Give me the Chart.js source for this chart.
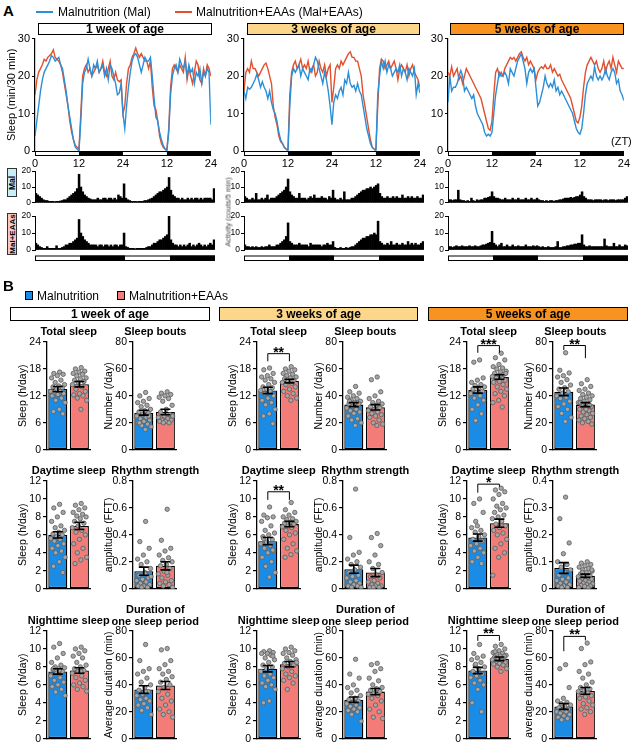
<!DOCTYPE html>
<html><head><meta charset="utf-8">
<script src="https://cdn.jsdelivr.net/npm/chart.js@4.4.1/dist/chart.umd.min.js"></script>
<style>
body{margin:0;background:#fff;}
#root{position:relative;width:638px;height:750px;overflow:hidden;font-family:"Liberation Sans",Arial,sans-serif;color:#000;}
canvas{position:absolute;}
.t{position:absolute;white-space:nowrap;}
.box{position:absolute;border:1px solid #000;box-sizing:border-box;text-align:center;font-weight:bold;font-size:12px;}
.rot{position:absolute;white-space:nowrap;transform:translate(-50%,-50%) rotate(-90deg);}
.ttl{position:absolute;width:140px;text-align:center;font-weight:bold;font-size:11px;line-height:12px;}
</style></head><body><div id="root"></div>
<script>
// ---------- Panel A: sleep per 30 min (ZT 0..48, 97 points) ----------
const zeitgeberTicks = [0, 12, 24, 36, 48];
const zeitgeberLabels = ['0', '12', '24', '12', '24'];
const ageLabels = ['1 week of age', '3 weeks of age', '5 weeks of age'];

const sleepMal1wk = [4,8,12,16,19,21,22,23, 24,25.5,25,24,24.5,25,23,22, 19,16,12,9,6,3,1,0.5, 0,8,18,21,22,24.5,22,20, 23,22,24,21,22,23,20,22, 19,23,22,20,18,15,15.5,18, 10,6,12,17,21,24,25.5,26, 25,23,21,23,25,24,24,25, 20,14,9,8,5,3,1.5,0.5, 0,5,15,20,22,23,21,24.5, 23,22,24,20,23,21,22,18, 21,20,22,18,21,20,22,21, 7];
const sleepEAA1wk = [15,19,21,22,23,24.5,24,25, 25.5,26,27,25,24.5,24,23,21, 18,15,12,8,5,3,1.5,1, 0.5,10,20,22,23,21,22,20, 21,22,23,21,22,24,21,20, 22,24,20,19,21,19,18.5,19, 10,12,18,22,23,25,26,27.5, 26,25,26,25,24,24,22,24, 17,12,11,8,4,2,1,0.5, 0.5,6,17,22,23,22,21,23, 22,21,25,19,22,20,18,21, 24,23,19,18,22,20,23,22, 20];
const sleepMal3wk = [16,14,17,16.5,17,18,19,20.5, 19,17,18.5,17,16,14,16,13, 11,10,8,5,3,2,1,0.5, 0,12,20,22,21,22,23,20, 22,21,20,19,22,21,23,25, 24,22,20,18,21,19,16,12, 7,13,15,14,16,17,15,19, 18,21,18,17,17.5,16,18,16, 15,12,9,6,4,2,1,0.5, 0,15,20,24,22,24,21,23, 22,20,21,22,21,23,20,22, 21,19,22,21,20,22,15,18, 15.5];
const sleepEAA3wk = [16,21,22,21,24,22,22,21, 20,21,22,23,23.5,22,20,18, 12,9,7,4,2.5,2,1,0.5, 0.5,15,21,23,24,22,23,24.5, 22,23,22,24,21,22,23,20, 21,24,22,21,23,20,22,23, 13,17,22,23,22,24,23,24, 25,26,26.5,25,25,24,24,22, 20,15,12,9,6,3,1,0.5, 0.5,12,22,24.5,24,22,23,24, 22,23,24,22,19,22,23,22, 21,23,20,22,23,21,20,19, 17];
const sleepMal5wk = [13,20,16,17,17,18,20,21.5, 20,16,17,16,15,14,15,12, 10,9,8,7,5,4,4.5,4, 5,10,15,18,21,20,20,21, 20,18,22,21,20,22,24,25, 26,24,22,18,21,22,21,22, 17,12,13,15,17,20,18,17, 18,17,19,16,17,15,16,15, 14,13,12,11,10,8,6,5, 4.5,6,10,15,18,19,20,19, 22.5,20,19,20,19,20,22,20, 19,21,22,21,18,19,16,15, 13.5];
const sleepEAA5wk = [21,20,22.5,20,21,22,19,20, 18,20,22,21,20,19,18,17, 16,15,14,12,10,8,6,5.5, 8,15,21,22,20,21,20,22, 23,24,25,24.5,25,24,25,26, 26.5,25,24,25,23,24,23,22, 19,21,22,22.5,22,23,22,22, 23,21,22,21,20,20.5,19,18, 17,16,15,14,12,10,8,7.5, 9,12,17,21,23,24,25,24, 23,24,22,21,22,24,21,23, 24,22,25,23,21,24,23,22, 22];

// ---------- Panel A: activity (counts, 96 bins over 48 h) ----------
const actMal1wk = [6,5,4,3,2,1.5,1.5,1, 1,1,0.8,1,1,1.2,1.5,2, 2,3,4,5,6,7,9,18, 10,7,5,4,3,2.5,2,2, 2,3,2,2,3,3,2,3, 3,2,3,2,5,4,3,12, 3,2,1.5,1,1,1,0.8,1, 1,1,1.5,1.5,2,2.5,3,4, 5,6,7,7,8,9,10,16, 8,5,4,3,3,2,3,2, 2,3,2,3,2,3,3,2, 3,2,3,3,3,3,2,9];
const actEAA1wk = [4,3,2,1.5,1,1,2,1, 1,1,1,2.5,1,1,1.5,2, 3,3,4,4,5,6,7,18, 10,8,6,5,4,3,3,3, 3,2,3,3,2,3,3,2, 3,2,3,3,2,3,3,10, 2,1.5,1,1,1,0.8,1,1, 1,1,1,1.5,2,2,3,4, 4,5,6,6,7,8,9,20, 6,4,3,3,2,3,2,3, 2,3,4,2,3,2,3,4, 3,2,3,2,3,4,3,6];
const actMal3wk = [4,3,2,2,3,2,6,2, 2,3,2,3,5,2,3,3, 3,4,5,6,7,8,10,15, 7,5,4,3,3,6,3,3, 3,2,3,4,3,5,3,3, 3,4,3,3,2,4,3,8, 3,2,2,3,2,7,2,2, 2,3,3,4,5,6,7,8, 8,9,9,10,9,10,11,12, 6,4,3,3,4,3,3,4, 3,4,3,3,5,3,3,4, 3,4,3,3,4,3,3,5];
const actEAA3wk = [3,2,2,1.5,2,1.5,2,1.5, 1.5,2,1.5,2,2,3,2,2, 2,3,3,4,5,6,8,16, 5,4,3,3,3,4,3,3, 3,3,2,4,3,3,3,3, 3,2,3,3,4,3,3,5, 1.5,1,1,1.5,1,1,1.5,1, 1.5,2,2,3,4,5,6,7, 7,8,8,9,9,10,9,17, 5,4,3,3,4,3,5,3, 3,4,3,3,4,3,3,5, 3,4,3,4,3,3,4,5];
const actMal5wk = [2,2,1.5,2,2,8,2,1.5, 1.5,1,1.5,1,3,1.5,1,2, 1.5,2,2,3,3,3.5,4,7, 4,3,3,2.5,2,2,3,2, 2,2,3,2,2,3,2,2, 2,3,2,2,3,2,2,3, 2,1.5,1.5,1,1.5,1,1.5,1.5, 1,1.5,1.5,2,2,2.5,3,3, 3,3.5,3,3.5,4,4,5,7, 4,3,2,2,2,1.5,2,2, 2,2,1.5,2,2,1.5,2,2, 2,1.5,2,2,2,2,3,4];
const actEAA5wk = [2,2,1.5,2,2.5,2,2,2.5, 2,2,2,2.5,2,2,2.5,2, 2,2.5,3,3,3.5,4,4.5,11, 4,3,2,3,4,2,2,3, 2,2,3,2,2,2.5,2,2, 2,3,2,2,2,2.5,2,2.5, 2,1.5,2,1.5,1.5,2,1.5,1.5, 1.5,2,5,1.5,1.5,2,2,2.5, 2.5,3,3,3.5,3.5,4,4,9, 3,2,2,2.5,2,2,2,2, 2,2,2,6.5,2.5,2,2,2, 4,2,2,3,2,2,3,2.5];

// ---------- Panel B: group means, SEM and individual animals ----------
const groupNames = ['Malnutrition', 'Malnutrition+EAAs'];
// means / SEM per age [1wk, 3wk, 5wk], each [Mal, Mal+EAAs]
const totalSleepMean = [[13.5,14.6],[13.2,15.3],[13.3,16.2]];
const totalSleepSEM  = [[0.6,0.6],[0.7,0.4],[0.7,0.5]];
const sleepBoutsMean = [[27.5,28],[33.5,31.5],[43,33.5]];
const sleepBoutsSEM  = [[1.8,2],[1.5,2],[2.8,1.5]];
const daySleepMean   = [[6.0,7.0],[5.3,7.2],[5.7,7.3]];
const daySleepSEM    = [[0.35,0.4],[0.4,0.3],[0.4,0.45]];
const rhythmMean     = [[0.13,0.17],[0.145,0.12],[0.077,0.048]];
const rhythmSEM      = [[0.03,0.03],[0.03,0.03],[0.02,0.006]];
const nightSleepMean = [[7.5,7.6],[7.8,8.3],[7.6,8.9]];
const nightSleepSEM  = [[0.3,0.3],[0.35,0.3],[0.35,0.2]];
const durationMean   = [[36.5,39.5],[29,35],[24,35.5]];
const durationSEM    = [[2.8,3],[2,2.3],[2.2,2.5]];

const totalSleepMal1wk = [17.3,17,16.8,16.5,16,15.5,15,14.5,14.2,14,13.8,13.5,13,13,12.8,12.5,12.3,12,11.5,11,10.5,9,8.5,8];
const totalSleepEAA1wk = [18.3,18,17.5,17.3,17,16.8,16.5,16,15.8,15.5,15.2,15,14.5,14,13.5,13,12.5,12.2,12,11.5,11,9];
const totalSleepMal3wk = [18.2,17.8,17,16.5,16.2,15.8,15.5,15,14.5,14,13.8,13.5,13.2,13,12.5,12,11.5,11,10.5,10,9,8,7.5,5.8];
const totalSleepEAA3wk = [18.5,18,17.8,17.5,17,16.8,16.5,16.2,16,15.8,15.5,15.2,15,14.8,14.5,14,13.5,13,12.5,12,11.5,11];
const totalSleepMal5wk = [20,19.5,16,15.5,15,14.5,14.3,14,13.8,13.5,13,12.8,12.5,12,11.5,11,10,9,8,6.5];
const totalSleepEAA5wk = [21.5,20.5,20,19,18.5,18.2,18,17.5,17.3,17,16.8,16.5,16.3,16,15.8,15.5,15.2,15,14.5,14,13.5,13,12.5,12,11,10.5,9.5,16,17,16.5];

const sleepBoutsMal1wk = [42.5,40,38,36,35,33,32,30,29,28,27,26,25,24,23,22,21,20,19,18,17,15,20,25];
const sleepBoutsEAA1wk = [43,42,41,40,39,38,36,33,30,28,26,25,24,23,22,22,21,21,20,20,25];
const sleepBoutsMal3wk = [47,43,42,40,39,38,37,36,35,34,33,32,31,30,29,28,27,25,23,22,20,18,36,34];
const sleepBoutsEAA3wk = [54,52,43,40,38,36,35,34,33,32,31,30,29,28,27,26,25,24,22,20,19,18];
const sleepBoutsMal5wk = [72,59,57,55,54,52,50,48,46,45,43,42,40,39,38,36,34,32,30,27,24,21];
const sleepBoutsEAA5wk = [52,49,47,45,44,42,41,40,39,38,37,36,35,34,33,32,31,30,29,28,27,26,25,24,23,22,21,20,19,30,35,33];

const daySleepMal1wk = [9.4,9,8.5,8,7.5,7,6.8,6.5,6.3,6.1,6,5.8,5.6,5.5,5.3,5,4.8,4.5,4.2,4,3.5,3,2.5,1.8];
const daySleepEAA1wk = [9.5,9.3,9,8.8,8.5,8.3,8.1,8,7.8,7.5,7.3,7,6.8,6.5,6.3,6,5.5,5,4.5,4,3.5,3.2,2.8];
const daySleepMal3wk = [9.1,8.2,8,7.9,7.5,7,6.5,6.2,6,5.8,5.5,5.2,5,4.8,4.5,4.2,4,3.5,3,2.5,1.8,1.3,5.6,4.3];
const daySleepEAA3wk = [9.6,8.8,8.5,8.2,8,7.8,7.7,7.5,7.4,7.3,7.2,7,6.9,6.8,6.5,6.2,6,5.5,5,4.5,4.2,3.8,3.5];
const daySleepMal5wk = [10,9.5,8.5,7,6.8,6.5,6.3,6,5.8,5.5,5.3,5,4.8,4.5,4.2,4,3.5,3,2.8,7.5];
const daySleepEAA5wk = [11.2,11,10.8,10.5,10,9.5,9.2,9,8.8,8.5,8.2,8,7.8,7.5,7.2,7,6.8,6.5,6.2,6,5.5,5,4.5,4,3.5,1.5];

const rhythmMal1wk = [0.5,0.35,0.3,0.25,0.22,0.2,0.18,0.15,0.12,0.1,0.08,0.07,0.06,0.05,0.04,0.03,0.02,0.02,0.01,0.01,0.09,0.11];
const rhythmEAA1wk = [0.59,0.36,0.3,0.28,0.25,0.23,0.21,0.2,0.18,0.17,0.15,0.13,0.11,0.1,0.08,0.06,0.05,0.04,0.03,0.02,0.01,0.12];
const rhythmMal3wk = [0.74,0.38,0.27,0.25,0.22,0.2,0.18,0.16,0.14,0.12,0.1,0.09,0.08,0.06,0.05,0.04,0.03,0.02,0.02,0.01,0.01];
const rhythmEAA3wk = [0.41,0.38,0.32,0.25,0.2,0.18,0.15,0.12,0.1,0.09,0.08,0.06,0.05,0.04,0.03,0.02,0.02,0.01,0.01,0.01];
const rhythmMal5wk = [0.34,0.26,0.17,0.13,0.1,0.09,0.08,0.07,0.06,0.05,0.04,0.035,0.03,0.025,0.02,0.015,0.01,0.01,0.005,0.005];
const rhythmEAA5wk = [0.1,0.095,0.09,0.085,0.08,0.075,0.07,0.065,0.06,0.055,0.05,0.048,0.045,0.04,0.038,0.035,0.03,0.028,0.025,0.02,0.018,0.015,0.012,0.01,0.008,0.005,0.003,0.06,0.07];

const nightSleepMal1wk = [10.6,10.2,9.5,9,8.5,8.2,8,7.9,7.8,7.7,7.5,7.3,7,6.8,6.5,6.3,6,5.8,5.5,5.2,4.8,7.6,7.8];
const nightSleepEAA1wk = [10.2,10,9.8,9.5,9.2,9,8.5,8.2,8,7.8,7.6,7.5,7.3,7,6.8,6.5,6.2,6,5.8,5.5,5.3,7.5];
const nightSleepMal3wk = [9.8,9.7,9.6,9.5,9.5,9.3,9,8.8,8.5,8.2,8,7.8,7.5,7.2,7,6.8,6.5,6.2,6,5.8,5.5,4.2,4,9.2];
const nightSleepEAA3wk = [10.2,10,9.8,9.6,9.5,9.3,9,8.8,8.6,8.4,8.2,8,7.8,7.5,7.2,7,6.8,6.5,6.2,5.5,8.5];
const nightSleepMal5wk = [10.5,9.5,9.2,9,8.8,8.5,8.2,8,7.8,7.5,7.2,7,6.8,6.5,6.2,6,5.5,4,3,8.3];
const nightSleepEAA5wk = [10.5,10.3,10,9.8,9.6,9.5,9.4,9.3,9.2,9.1,9,8.9,8.8,8.7,8.6,8.5,8.4,8.3,8.2,8,7.8,7.5,9.7,9.2];

const durationMal1wk = [70,58,52,50,48,45,42,40,38,36,35,33,32,30,29,28,26,25,23,21,18,35];
const durationEAA1wk = [67,66,58,55,52,50,48,46,44,42,40,38,35,33,30,28,25,22,20,18,16];
const durationMal3wk = [59,48,45,40,38,36,34,32,30,29,28,27,26,25,24,23,22,21,20,18,13,30];
const durationEAA3wk = [56,55,52,50,45,43,40,38,37,36,35,34,33,32,30,28,25,22,20,16,15,37];
const durationMal5wk = [55,52,38,30,28,27,26,25,24,23,22,21,20,20,19,18,17,16,15,14];
const durationEAA5wk = [71,67,57,55,50,48,45,42,40,38,37,36,35,34,33,32,31,30,28,26,25,23,22,20,18];

// ---------- styles ----------
const BLUE_LINE = '#2b8fd8', RED_LINE = '#e2502e';
const BLUE_BAR = '#1a8ce6', PINK_BAR = '#f47c78';
const root = document.getElementById('root');
Chart.defaults.font.family = '"Liberation Sans", Arial, sans-serif';
Chart.defaults.color = '#000';

function addCanvas(x, y, w, h) {
  const c = document.createElement('canvas');
  c.width = Math.round(w); c.height = Math.round(h);
  c.style.left = x + 'px'; c.style.top = y + 'px';
  c.style.width = Math.round(w) + 'px'; c.style.height = Math.round(h) + 'px';
  root.appendChild(c); return c;
}
function addText(html, css, cls) {
  const d = document.createElement('div');
  d.className = cls || 't'; d.innerHTML = html; d.style.cssText += css;
  root.appendChild(d); return d;
}

// light/dark bar under the time axis
const ldBar = {
  id: 'ldBar',
  afterDraw(chart, args, o) {
    if (!o || !o.show) return;
    const sx = chart.scales.xh || chart.scales.x;
    const ctx = chart.ctx, y0 = chart.chartArea.bottom + o.offset;
    ctx.save();
    ctx.fillStyle = '#000';
    for (let k = 0; k < zeitgeberTicks.length - 1; k++) {
      if (k % 2 === 1) {
        const a = sx.getPixelForValue(zeitgeberTicks[k]), b = sx.getPixelForValue(zeitgeberTicks[k + 1]);
        ctx.fillRect(a, y0, b - a, o.h);
      }
    }
    const a = sx.getPixelForValue(0), b = sx.getPixelForValue(48);
    ctx.strokeStyle = '#000'; ctx.lineWidth = 1;
    ctx.strokeRect(a + 0.5, y0 + 0.5, b - a - 1, o.h - 1);
    ctx.restore();
  }
};

const errBars = {
  id: 'errBars',
  afterDatasetsDraw(chart, args, o) {
    if (!o || !o.mean) return;
    const ctx = chart.ctx, sy = chart.scales.y, sx = chart.scales.xd;
    ctx.save(); ctx.strokeStyle = '#000'; ctx.lineWidth = 1.6;
    o.mean.forEach((m, i) => {
      const cx = sx.getPixelForValue(i);
      const yt = sy.getPixelForValue(m + o.sem[i]), yb = sy.getPixelForValue(m - o.sem[i]);
      ctx.beginPath();
      ctx.moveTo(cx, yt); ctx.lineTo(cx, yb);
      ctx.moveTo(cx - 5, yt); ctx.lineTo(cx + 5, yt);
      ctx.moveTo(cx - 5, yb); ctx.lineTo(cx + 5, yb);
      ctx.stroke();
    });
    ctx.restore();
  }
};

const sigBracket = {
  id: 'sigBracket',
  afterDraw(chart, args, o) {
    if (!o || !o.text) return;
    const ctx = chart.ctx, sy = chart.scales.y, sx = chart.scales.xd;
    const x0 = sx.getPixelForValue(0), x1 = sx.getPixelForValue(1);
    const yl = sy.getPixelForValue(o.at), y0 = sy.getPixelForValue(o.l0), y1 = sy.getPixelForValue(o.l1);
    ctx.save(); ctx.strokeStyle = '#000'; ctx.lineWidth = 1;
    ctx.beginPath(); ctx.moveTo(x0, y0); ctx.lineTo(x0, yl); ctx.lineTo(x1, yl); ctx.lineTo(x1, y1); ctx.stroke();
    ctx.fillStyle = '#000'; ctx.font = 'bold 14px "Liberation Sans", Arial, sans-serif';
    ctx.textAlign = 'center'; ctx.textBaseline = 'alphabetic';
    ctx.fillText(o.text, (x0 + x1) / 2, yl + 3);
    ctx.restore();
  }
};

// ---------- Panel A: sleep profiles ----------
const LINE_LEFT = [35, 244.3, 447.7], LINE_W = 180, LINE_TOP = 37.7, LINE_H = 113;
function lineChart(i, mal, eaa) {
  const YW = 30, PT = 8, XH = 20, PR = 8, PB = 2;
  const c = addCanvas(LINE_LEFT[i] - YW, LINE_TOP - PT, YW + LINE_W + PR, PT + LINE_H + XH + PB);
  const toXY = arr => arr.map((v, k) => ({ x: k * 0.5, y: v }));
  new Chart(c, {
    type: 'line',
    data: { datasets: [
      { data: toXY(mal), borderColor: BLUE_LINE, borderWidth: 1.4, pointRadius: 0, tension: 0 },
      { data: toXY(eaa), borderColor: RED_LINE, borderWidth: 1.4, pointRadius: 0, tension: 0 }
    ]},
    options: {
      responsive: false, animation: false, devicePixelRatio: 1,
      layout: { padding: { left: 0, top: PT, right: PR, bottom: PB } },
      plugins: { legend: { display: false }, tooltip: { enabled: false }, ldBar: { show: true, offset: 0, h: 5 } },
      scales: {
        x: { type: 'linear', min: 0, max: 48, offset: false,
          afterBuildTicks: s => { s.ticks = zeitgeberTicks.map(v => ({ value: v })); },
          ticks: { callback: (v, idx) => zeitgeberLabels[idx], font: { size: 11 }, padding: 6, maxRotation: 0, autoSkip: false },
          grid: { display: false, drawTicks: false }, border: { display: false },
          afterFit: s => { s.height = XH; } },
        y: { min: 0, max: 30, ticks: { stepSize: 10, font: { size: 11 }, padding: 2 },
          grid: { drawOnChartArea: false, tickLength: 3, color: '#000' },
          border: { color: '#000', width: 1.2 },
          title: { display: i === 0, text: 'Sleep (min/30 min)', font: { size: 11 }, padding: 0 },
          afterFit: s => { s.width = YW; } }
      }
    },
    plugins: [ldBar]
  });
}
lineChart(0, sleepMal1wk, sleepEAA1wk);
lineChart(1, sleepMal3wk, sleepEAA3wk);
lineChart(2, sleepMal5wk, sleepEAA5wk);

// ---------- Panel A: actograms ----------
const ACT_ROWS = [{ top: 170.5, h: 36 }, { top: 216, h: 34 }];
function actoChart(i, row, values) {
  const YW = 16, PT = 6, PR = 3, PB = row === 1 ? 14 : 2;
  const r = ACT_ROWS[row];
  const c = addCanvas(LINE_LEFT[i] - YW, r.top - PT, YW + LINE_W + PR, PT + r.h + PB);
  new Chart(c, {
    type: 'bar',
    data: { labels: values.map((v, k) => k), datasets: [{ data: values, backgroundColor: '#000', barPercentage: 1, categoryPercentage: 1, borderWidth: 0 }] },
    options: {
      responsive: false, animation: false, devicePixelRatio: 1,
      layout: { padding: { left: 0, top: PT, right: PR, bottom: PB } },
      plugins: { legend: { display: false }, tooltip: { enabled: false }, ldBar: { show: row === 1, offset: 5.5, h: 5.5 } },
      scales: {
        x: { type: 'category', display: false, offset: true },
        xh: { type: 'linear', axis: 'x', display: false, min: 0, max: 48, offset: false },
        y: { min: 0, max: 20, ticks: { stepSize: 10, font: { size: 8.5 }, padding: 1 },
          grid: { drawOnChartArea: false, tickLength: 3, color: '#000' },
          border: { color: '#000', width: 1 },
          afterFit: s => { s.width = YW; } }
      }
    },
    plugins: [ldBar]
  });
}
actoChart(0, 0, actMal1wk); actoChart(0, 1, actEAA1wk);
actoChart(1, 0, actMal3wk); actoChart(1, 1, actEAA3wk);
actoChart(2, 0, actMal5wk); actoChart(2, 1, actEAA5wk);

// ---------- Panel B: bar charts ----------
const COL_X = [46.7, 133.3, 256.7, 343.3, 466.7, 553.3];
const ROW_TOP = [342.3, 480.7, 631];
const PLOT_W = 44, PLOT_H = 112.7;
const jitter = k => ((((k + 1) * 0.6180339887) % 1) - 0.5) * 0.7;

function barPanel(col, row, cfg) {
  const YW = 30, PL = 2, PT = 16, PR = 4, PB = 3;
  const x = COL_X[col], top = ROW_TOP[row];
  const c = addCanvas(x - YW - PL, top - PT, PL + YW + PLOT_W + PR, PT + PLOT_H + PB);
  const dots = (arr, g) => arr.map((v, k) => ({ x: g + jitter(k), y: v }));
  new Chart(c, {
    type: 'bar',
    data: { labels: groupNames, datasets: [
      { type: 'scatter', data: dots(cfg.a, 0).concat(dots(cfg.b, 1)), xAxisID: 'xd', yAxisID: 'y',
        pointRadius: 2.2, pointBackgroundColor: '#a6a6a6', pointBorderColor: '#5a5a5a', pointBorderWidth: 0.8, order: 0 },
      { type: 'bar', data: cfg.mean, xAxisID: 'x', yAxisID: 'y', backgroundColor: [BLUE_BAR, PINK_BAR], borderColor: '#000',
        borderWidth: 1.3, borderSkipped: false, grouped: false, barPercentage: 0.88, categoryPercentage: 1, order: 1 }
    ]},
    options: {
      responsive: false, animation: false, devicePixelRatio: 1,
      layout: { padding: { left: PL, top: PT, right: PR, bottom: PB } },
      plugins: { legend: { display: false }, tooltip: { enabled: false },
        errBars: { mean: cfg.mean, sem: cfg.sem }, sigBracket: cfg.sig || {} },
      scales: {
        x: { type: 'category', offset: true, grid: { display: false, drawTicks: false }, ticks: { display: false },
          border: { display: true, color: '#000', width: 1.3 }, afterFit: s => { s.height = 0; } },
        xd: { type: 'linear', axis: 'x', display: false, min: -0.5, max: 1.5, offset: false },
        y: { min: 0, max: cfg.max, ticks: { stepSize: cfg.step, font: { size: 10.5 }, padding: 2 },
          grid: { drawOnChartArea: false, tickLength: 4, color: '#000', lineWidth: 1.2 },
          border: { color: '#000', width: 1.3 },
          title: { display: true, text: cfg.yt, font: { size: 10.5 }, padding: 0 },
          afterFit: s => { s.width = YW; } }
      }
    },
    plugins: [errBars, sigBracket]
  });
  addText(cfg.title, 'left:' + (x + PLOT_W / 2 - 70) + 'px;top:' + (top - (cfg.title.indexOf('<br>') >= 0 ? 28 : 17)) + 'px;', 'ttl');
}

const sigs = {
  ts: [null, { text: '**', at: 21.4, l0: 19.7, l1: 19.7 }, { text: '***', at: 23.2, l0: 21.6, l1: 21.6 }],
  sb: [null, null, { text: '**', at: 77.4, l0: 74, l1: 68 }],
  ds: [null, { text: '**', at: 10.8, l0: 9.9, l1: 9.9 }, { text: '*', at: 11.65, l0: 10.7, l1: 11.35 }],
  ns: [null, null, { text: '**', at: 11.5, l0: 10.9, l1: 10.9 }],
  du: [null, null, { text: '**', at: 76, l0: 65, l1: 73 }]
};
const tsA = [totalSleepMal1wk, totalSleepMal3wk, totalSleepMal5wk], tsB = [totalSleepEAA1wk, totalSleepEAA3wk, totalSleepEAA5wk];
const sbA = [sleepBoutsMal1wk, sleepBoutsMal3wk, sleepBoutsMal5wk], sbB = [sleepBoutsEAA1wk, sleepBoutsEAA3wk, sleepBoutsEAA5wk];
const dsA = [daySleepMal1wk, daySleepMal3wk, daySleepMal5wk], dsB = [daySleepEAA1wk, daySleepEAA3wk, daySleepEAA5wk];
const rsA = [rhythmMal1wk, rhythmMal3wk, rhythmMal5wk], rsB = [rhythmEAA1wk, rhythmEAA3wk, rhythmEAA5wk];
const nsA = [nightSleepMal1wk, nightSleepMal3wk, nightSleepMal5wk], nsB = [nightSleepEAA1wk, nightSleepEAA3wk, nightSleepEAA5wk];
const duA = [durationMal1wk, durationMal3wk, durationMal5wk], duB = [durationEAA1wk, durationEAA3wk, durationEAA5wk];

for (let g = 0; g < 3; g++) {
  const c0 = g * 2, c1 = g * 2 + 1;
  barPanel(c0, 0, { title: 'Total sleep', yt: 'Sleep (h/day)', max: 24, step: 6, mean: totalSleepMean[g], sem: totalSleepSEM[g], a: tsA[g], b: tsB[g], sig: sigs.ts[g] });
  barPanel(c1, 0, { title: 'Sleep bouts', yt: 'Number (/day)', max: 80, step: 20, mean: sleepBoutsMean[g], sem: sleepBoutsSEM[g], a: sbA[g], b: sbB[g], sig: sigs.sb[g] });
  barPanel(c0, 1, { title: 'Daytime sleep', yt: 'Sleep (h/day)', max: 12, step: 2, mean: daySleepMean[g], sem: daySleepSEM[g], a: dsA[g], b: dsB[g], sig: sigs.ds[g] });
  barPanel(c1, 1, { title: 'Rhythm strength', yt: 'amplitude (FFT)', max: g === 2 ? 0.4 : 0.8, step: g === 2 ? 0.1 : 0.2, mean: rhythmMean[g], sem: rhythmSEM[g], a: rsA[g], b: rsB[g] });
  barPanel(c0, 2, { title: 'Nighttime sleep', yt: 'Sleep (h/day)', max: 12, step: 2, mean: nightSleepMean[g], sem: nightSleepSEM[g], a: nsA[g], b: nsB[g], sig: sigs.ns[g] });
  barPanel(c1, 2, { title: 'Duration of<br>one sleep period', yt: g === 0 ? 'Average duration (min)' : 'average duration (min)', max: 80, step: 20, mean: durationMean[g], sem: durationSEM[g], a: duA[g], b: duB[g], sig: sigs.du[g] });
}

// ---------- text, legends, headers ----------
addText('A', 'left:3px;top:2px;font-weight:bold;font-size:15px;');
addText('', 'left:36px;top:11px;width:17px;height:2px;background:' + BLUE_LINE + ';');
addText('Malnutrition (Mal)', 'left:58px;top:5px;font-size:12px;line-height:14px;');
addText('', 'left:175px;top:11px;width:17px;height:2px;background:' + RED_LINE + ';');
addText('Malnutrition+EAAs (Mal+EAAs)', 'left:196px;top:5px;font-size:12px;line-height:14px;');
const headerColors = ['#ffffff', '#fbd68b', '#f7931e'];
const hdrA = [[38, 174], [247, 173], [450, 174]];
hdrA.forEach((h, k) => addText(ageLabels[k], 'left:' + h[0] + 'px;top:23px;width:' + h[1] + 'px;height:12px;line-height:10px;background:' + headerColors[k] + ';', 'box'));
addText('(ZT)', 'left:611px;top:135px;font-size:11px;');
addText('', 'left:7px;top:168px;width:10px;height:29px;background:#c8eef8;border:1px solid #333;box-sizing:border-box;');
addText('Mal', 'left:12px;top:182.5px;font-weight:bold;font-size:8.5px;', 'rot');
addText('', 'left:7px;top:213px;width:10px;height:42px;background:#f7c8c4;border:1px solid #333;box-sizing:border-box;');
addText('Mal+EAAs', 'left:12px;top:234px;font-weight:bold;font-size:8px;', 'rot');
addText('Activity (couts/5 min)', 'left:228px;top:212px;font-size:7.5px;color:#444;', 'rot');

addText('B', 'left:3px;top:277px;font-weight:bold;font-size:15px;');
addText('', 'left:25px;top:291px;width:8px;height:9px;background:' + BLUE_BAR + ';border:1px solid #000;box-sizing:border-box;');
addText(groupNames[0], 'left:37px;top:289px;font-size:12px;line-height:14px;');
addText('', 'left:117px;top:291px;width:8px;height:9px;background:' + PINK_BAR + ';border:1px solid #000;box-sizing:border-box;');
addText(groupNames[1], 'left:129px;top:289px;font-size:12px;line-height:14px;');
const hdrB = [[10, 200], [219, 199], [428, 200]];
hdrB.forEach((h, k) => addText(ageLabels[k], 'left:' + h[0] + 'px;top:307px;width:' + h[1] + 'px;height:14px;line-height:12px;background:' + headerColors[k] + ';', 'box'));
</script>
</body></html>
